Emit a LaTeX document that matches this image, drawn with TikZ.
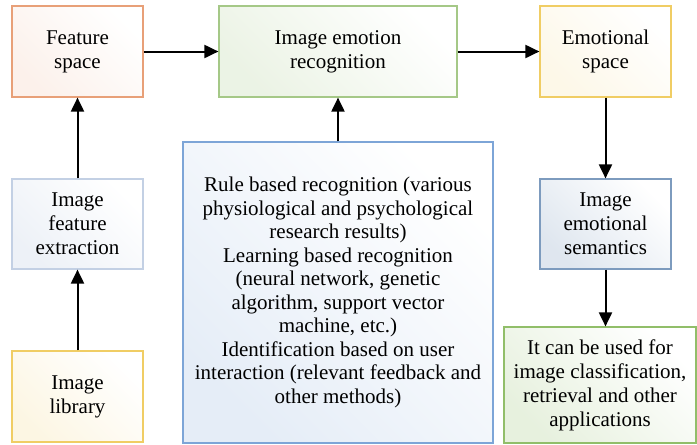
\documentclass[tikz,border=0pt]{standalone}
\usepackage{fontspec}
\setmainfont{Liberation Serif}
\usetikzlibrary{arrows.meta}
\definecolor{bOrange}{RGB}{232,160,120}
\definecolor{bGreen}{RGB}{165,200,135}
\definecolor{bGold}{RGB}{240,205,100}
\definecolor{bPale}{RGB}{195,208,228}
\definecolor{bBlue}{RGB}{125,165,215}
\definecolor{bSteel}{RGB}{125,155,190}
\definecolor{bGreen2}{RGB}{145,190,105}
\tikzset{
  box/.style={draw, line width=1.2pt, align=center, inner sep=0pt,
    font=\fontsize{21}{24}\selectfont, text=black},
  fillbox/.style={shading=axis, left color=#1, right color=white, shading angle=135},
  link/.style={line width=2pt, -{Triangle[length=14pt,width=13pt]}}
}
\begin{document}
\begin{tikzpicture}[x=1pt,y=-1pt]
\useasboundingbox (0,0) rectangle (697,445);
\node[box, draw=bOrange, fillbox=bOrange!15, minimum width=131pt, minimum height=91pt] (fs) at (77.5,51.5) {Feature\\space};
\node[box, draw=bGreen, fillbox=bGreen!22, minimum width=238pt, minimum height=91pt] (ier) at (338,51.5) {Image emotion\\recognition};
\node[box, draw=bGold, fillbox=bGold!15, minimum width=131pt, minimum height=91pt] (es) at (605.5,51.5) {Emotional\\space};
\node[box, draw=bPale, fillbox=bPale!30, minimum width=131pt, minimum height=90pt] (ife) at (77.5,224) {Image\\feature\\extraction};
\node[box, draw=bGold, fillbox=bGold!18, minimum width=131pt, minimum height=91pt] (il) at (77.5,396.5) {Image\\library};
\node[box, draw=bBlue, fillbox=bBlue!20, minimum width=310pt, minimum height=301pt,
  font=\fontsize{21}{23.5}\selectfont] (rec) at (338,292.5) {Rule based recognition (various\\physiological and psychological\\research results)\\Learning based recognition\\(neural network, genetic\\algorithm, support vector\\machine, etc.)\\Identification based on user\\interaction (relevant feedback and\\other methods)};
\node[box, draw=bSteel, fillbox=bSteel!25, minimum width=131pt, minimum height=90pt] (ies) at (605.5,224) {Image\\emotional\\semantics};
\node[box, draw=bGreen2, fillbox=bGreen2!22, minimum width=192pt, minimum height=116pt,
  font=\fontsize{21}{24}\selectfont] (use) at (600,385) {It can be used for\\image classification,\\retrieval and other\\applications};
\draw[link] (fs) -- (ier);
\draw[link] (ier) -- (es);
\draw[link] (ife) -- (fs);
\draw[link] (il) -- (ife);
\draw[link] (rec) -- (ier);
\draw[link] (es) -- (ies);
\draw[link] (ies.south) -- (ies.south |- use.north);
\end{tikzpicture}
\end{document}
